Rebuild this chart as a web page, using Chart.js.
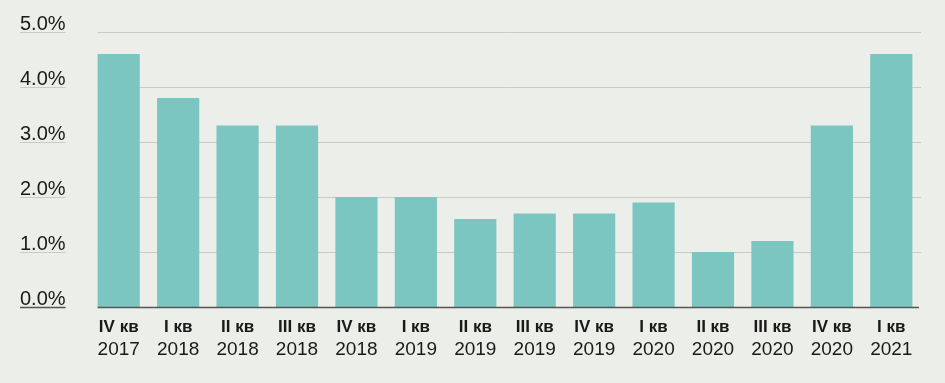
<!DOCTYPE html>
<html>
<head>
<meta charset="utf-8">
<script src="https://cdn.jsdelivr.net/npm/chart.js@4"></script>
<style>
  html, body { margin: 0; padding: 0; background: #eceee9; }
  #wrap { width: 945px; height: 383px; }
</style>
</head>
<body>
<div id="wrap"><canvas id="chart"></canvas></div>
<script>
const quarters = ['IV кв', 'I кв', 'II кв', 'III кв', 'IV кв', 'I кв', 'II кв', 'III кв', 'IV кв', 'I кв', 'II кв', 'III кв', 'IV кв', 'I кв'];
const years = ['2017', '2018', '2018', '2018', '2018', '2019', '2019', '2019', '2019', '2020', '2020', '2020', '2020', '2021'];
const values = [4.6, 3.8, 3.3, 3.3, 2.0, 2.0, 1.6, 1.7, 1.7, 1.9, 1.0, 1.2, 3.3, 4.6];
const yMax = 5;

const FONT = "'Liberation Sans', Arial, sans-serif";
const Y_FONT_SIZE = 20;
const GRID = '#c9cbc5';
const AXIS = '#555555';

// grid lines start at the first bar, labels get their own underline
const gridPlugin = {
    id: 'gridPlugin',
    beforeDatasetsDraw(chart) {
        const ctx = chart.ctx;
        const y = chart.scales.y;
        const bar = chart.getDatasetMeta(0).data[0];
        const left = bar.x - bar.width / 2;
        ctx.save();
        ctx.strokeStyle = GRID;
        ctx.lineWidth = 1;
        y.ticks.forEach(t => {
            if (t.value === 0) return;
            const py = Math.round(y.getPixelForValue(t.value)) + 0.5;
            ctx.beginPath();
            ctx.moveTo(left, py);
            ctx.lineTo(chart.chartArea.right, py);
            ctx.stroke();
        });
        ctx.restore();
    },
    afterDatasetsDraw(chart) {
        const ctx = chart.ctx;
        const y = chart.scales.y;
        const bar = chart.getDatasetMeta(0).data[0];
        const left = bar.x - bar.width / 2;
        const py0 = Math.round(y.getPixelForValue(0)) + 0.5;
        ctx.save();
        ctx.strokeStyle = AXIS;
        ctx.lineWidth = 1.5;
        ctx.beginPath();
        ctx.moveTo(left, py0);
        ctx.lineTo(chart.chartArea.right - 2, py0);
        ctx.stroke();

        // underline below each y label
        ctx.font = Y_FONT_SIZE + 'px ' + FONT;
        y.ticks.forEach(t => {
            const py = Math.round(y.getPixelForValue(t.value)) + 0.5;
            const w = ctx.measureText(t.label).width;
            ctx.strokeStyle = t.value === 0 ? AXIS : GRID;
            ctx.lineWidth = t.value === 0 ? 1.5 : 1;
            ctx.beginPath();
            ctx.moveTo(y.left, py);
            ctx.lineTo(y.left + w, py);
            ctx.stroke();
        });
        ctx.restore();
    }
};

new Chart(document.getElementById('chart'), {
    type: 'bar',
    data: {
        labels: quarters,
        datasets: [{
            data: values,
            backgroundColor: '#7bc6c0',
            borderWidth: 0,
            categoryPercentage: 1,
            barPercentage: 0.71
        }]
    },
    options: {
        responsive: true,
        maintainAspectRatio: false,
        animation: false,
        layout: { padding: { top: 32, left: 20, right: 24, bottom: 22 } },
        plugins: { legend: { display: false }, tooltip: { enabled: false } },
        scales: {
            x: {
                grid: { display: false, drawTicks: false },
                border: { display: false },
                afterFit(scale) { scale.height = 30; },
                ticks: {
                    color: '#1a1a1a',
                    font: { family: FONT, size: 17, weight: 'bold' },
                    padding: 10,
                    maxRotation: 0,
                    autoSkip: false
                }
            },
            x2: {
                type: 'category',
                labels: years,
                position: 'bottom',
                offset: true,
                grid: { display: false, drawTicks: false },
                border: { display: false },
                afterFit(scale) { scale.height = 24; },
                ticks: {
                    color: '#1a1a1a',
                    font: { family: FONT, size: 19 },
                    padding: 1,
                    maxRotation: 0,
                    autoSkip: false
                }
            },
            y: {
                min: 0,
                max: yMax,
                grid: { display: false, drawTicks: false },
                border: { display: false },
                afterFit(scale) { scale.width = 69; },
                ticks: {
                    stepSize: 1,
                    color: '#1a1a1a',
                    font: { family: FONT, size: Y_FONT_SIZE },
                    crossAlign: 'far',
                    labelOffset: -8,
                    padding: 0,
                    callback: v => v.toFixed(1) + '%'
                }
            }
        }
    },
    plugins: [gridPlugin]
});
</script>
</body>
</html>
